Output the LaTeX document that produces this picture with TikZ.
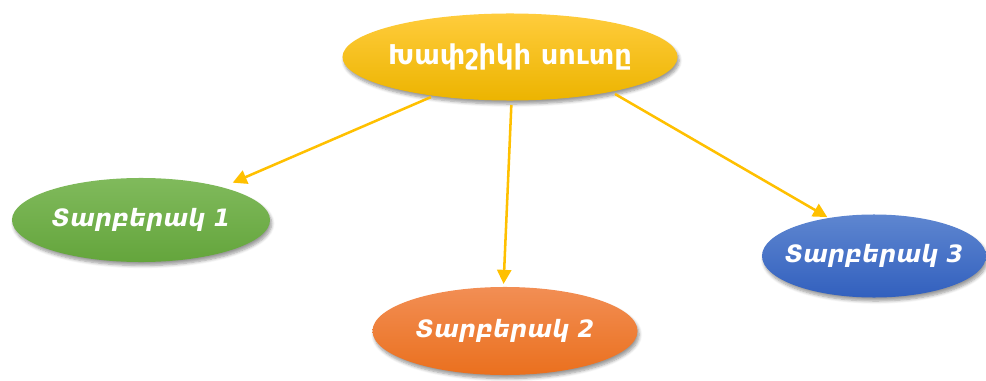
\documentclass[tikz,border=0pt]{standalone}
\usepackage{fontspec}
\setmainfont{DejaVu Sans}
\usetikzlibrary{shapes.geometric,shadows.blur,arrows.meta}

\begin{document}
\begin{tikzpicture}[x=0.025cm, y=-0.025cm,
  ovalo/.style={ellipse, inner xsep=-40pt, inner ysep=0pt, text=white,
    blur shadow={shadow xshift=1.2pt, shadow yshift=-2.5pt,
      shadow blur steps=6, shadow opacity=40}},
  flecha/.style={draw=amarflecha, line width=1.8pt,
    -{Triangle[length=10pt,width=10pt]}}]

\definecolor{amarA}{RGB}{255,204,60}
\definecolor{amarB}{RGB}{236,180,0}
\definecolor{verdeA}{RGB}{128,186,92}
\definecolor{verdeB}{RGB}{100,165,60}
\definecolor{naranjaA}{RGB}{242,142,84}
\definecolor{naranjaB}{RGB}{234,112,30}
\definecolor{azulA}{RGB}{94,134,208}
\definecolor{azulB}{RGB}{50,96,190}
\definecolor{amarflecha}{RGB}{255,192,0}

\useasboundingbox (0,0) rectangle (986,381);

% Nodo central
\node[ovalo, top color=amarA, bottom color=amarB,
  minimum width=8.375cm, minimum height=2.175cm,
  font=\bfseries\fontsize{19.4}{22}\selectfont] (tema) at (510,57) {Խափշիկի սուտը};

% Variantes
\node[ovalo, top color=verdeA, bottom color=verdeB,
  minimum width=6.45cm, minimum height=2.1cm,
  font=\bfseries\itshape\fontsize{17}{20}\selectfont] (var1) at (141,220) {Տարբերակ 1};
\node[ovalo, top color=naranjaA, bottom color=naranjaB,
  minimum width=6.625cm, minimum height=2.2cm,
  font=\bfseries\itshape\fontsize{17}{20}\selectfont] (var2) at (505,331) {Տարբերակ 2};
\node[ovalo, top color=azulA, bottom color=azulB,
  minimum width=5.6cm, minimum height=2.075cm,
  font=\bfseries\itshape\fontsize{17}{20}\selectfont] (var3) at (874,256) {Տարբերակ 3};

% Flechas
\draw[flecha, shorten <=2pt, shorten >=8pt] (tema.-153) -- (var1.22);
\draw[flecha, shorten <=3pt, shorten >=2pt] (tema.-88) -- (var2.92);
\draw[flecha, shorten <=3pt, shorten >=1pt] (tema.-19) -- (var3.140);

\end{tikzpicture}
\end{document}
